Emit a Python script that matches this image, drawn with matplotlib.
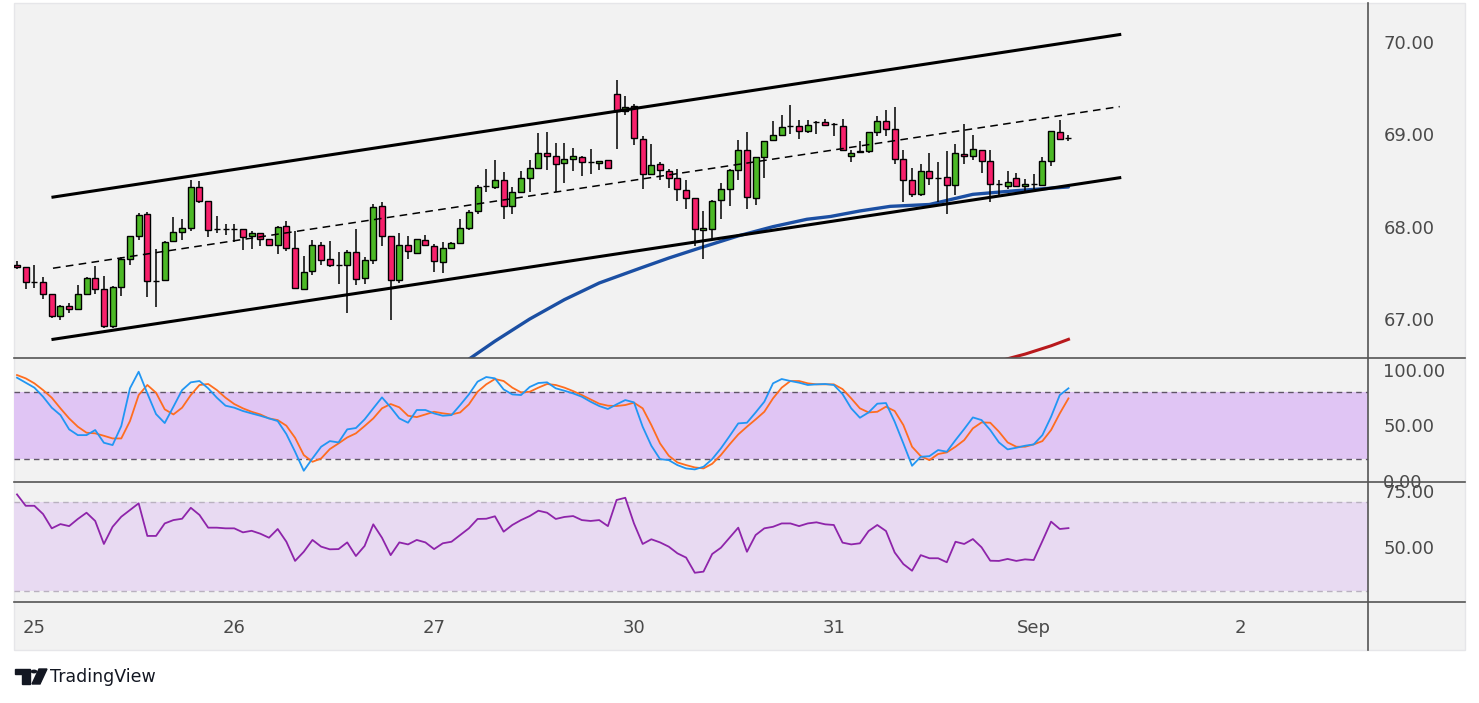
import numpy as np
import matplotlib.pyplot as plt
from matplotlib.patches import Rectangle, Polygon, Circle
from matplotlib.lines import Line2D

W, H = 1479, 703

# hourly candles, index 0..121
opens = [67.59, 67.56, 67.40, 67.40, 67.27, 67.03, 67.14, 67.11, 67.27, 67.44,
         67.32, 66.92, 67.35, 67.65, 67.90, 68.14, 67.41, 67.42, 67.84, 67.94,
         67.99, 68.43, 68.28, 67.97, 67.97, 67.97, 67.97, 67.90, 67.93, 67.87,
         67.80, 68.01, 67.77, 67.33, 67.52, 67.80, 67.65, 67.59, 67.59, 67.73,
         67.44, 67.64, 68.22, 67.90, 67.42, 67.80, 67.71, 67.86, 67.79, 67.62,
         67.77, 67.82, 67.99, 68.17, 68.44, 68.43, 68.50, 68.22, 68.37, 68.53,
         68.64, 68.80, 68.77, 68.69, 68.73, 68.75, 68.70, 68.69, 68.72, 69.44,
         69.25, 69.31, 68.95, 68.57, 68.68, 68.60, 68.53, 68.40, 68.31, 67.96,
         67.98, 68.29, 68.41, 68.61, 68.83, 68.31, 68.75, 68.94, 68.99, 69.09,
         69.09, 69.04, 69.13, 69.13, 69.11, 69.09, 68.77, 68.81, 68.82, 69.02,
         69.14, 69.06, 68.73, 68.50, 68.35, 68.60, 68.53, 68.54, 68.45, 68.79,
         68.76, 68.83, 68.71, 68.46, 68.44, 68.53, 68.44, 68.46, 68.45, 68.71,
         69.03, 68.96]
highs = [67.63, 67.56, 67.59, 67.45, 67.27, 67.15, 67.17, 67.37, 67.45, 67.57,
         67.47, 67.36, 67.67, 67.90, 68.15, 68.16, 67.76, 67.85, 68.11, 68.08,
         68.50, 68.49, 68.28, 68.12, 68.03, 68.03, 67.98, 67.95, 67.93, 67.87,
         68.01, 68.06, 67.95, 67.68, 67.86, 67.83, 67.84, 67.73, 67.75, 67.97,
         67.67, 68.24, 68.27, 67.90, 67.93, 67.90, 67.87, 67.91, 67.81, 67.83,
         67.83, 68.08, 68.18, 68.45, 68.62, 68.72, 68.59, 68.43, 68.60, 68.72,
         69.01, 69.02, 68.91, 68.91, 68.85, 68.77, 68.84, 68.71, 68.72, 69.59,
         69.42, 69.33, 68.98, 68.90, 68.70, 68.62, 68.62, 68.50, 68.31, 68.17,
         68.29, 68.47, 68.62, 68.94, 69.03, 68.75, 68.93, 69.14, 69.21, 69.32,
         69.16, 69.15, 69.14, 69.17, 69.12, 69.17, 68.83, 68.93, 69.03, 69.20,
         69.26, 69.30, 68.83, 68.64, 68.68, 68.80, 68.70, 68.82, 68.89, 69.11,
         68.99, 68.83, 68.83, 68.50, 68.60, 68.58, 68.52, 68.57, 68.75, 69.04,
         69.16, 68.99]
lows = [67.54, 67.33, 67.34, 67.22, 67.01, 66.99, 67.06, 67.10, 67.26, 67.27,
        66.90, 66.90, 67.25, 67.58, 67.86, 67.24, 67.13, 67.41, 67.84, 67.86,
        67.95, 68.26, 67.89, 67.93, 67.91, 67.83, 67.75, 67.76, 67.79, 67.79,
        67.70, 67.74, 67.33, 67.32, 67.48, 67.59, 67.56, 67.38, 67.07, 67.37,
        67.38, 67.60, 67.79, 66.99, 67.39, 67.65, 67.70, 67.80, 67.51, 67.50,
        67.76, 67.82, 67.96, 68.14, 68.37, 68.41, 68.08, 68.14, 68.36, 68.38,
        68.62, 68.61, 68.38, 68.47, 68.60, 68.55, 68.57, 68.61, 68.62, 68.84,
        69.21, 68.88, 68.41, 68.57, 68.50, 68.42, 68.28, 68.19, 67.79, 67.65,
        67.88, 68.08, 68.22, 68.50, 68.19, 68.23, 68.53, 68.93, 68.98, 69.00,
        68.95, 69.01, 69.00, 69.09, 68.98, 68.83, 68.70, 68.80, 68.80, 68.98,
        68.98, 68.68, 68.27, 68.32, 68.33, 68.45, 68.27, 68.14, 68.34, 68.68,
        68.72, 68.58, 68.27, 68.33, 68.41, 68.44, 68.38, 68.41, 68.45, 68.66,
        68.94, 68.93]
closes = [67.56, 67.40, 67.40, 67.27, 67.03, 67.14, 67.11, 67.27, 67.44, 67.32,
          66.92, 67.35, 67.65, 67.90, 68.13, 67.41, 67.41, 67.83, 67.94, 67.99,
          68.43, 68.28, 67.96, 67.97, 67.97, 67.97, 67.89, 67.93, 67.87, 67.80,
          68.00, 67.77, 67.34, 67.51, 67.80, 67.64, 67.59, 67.59, 67.73, 67.43,
          67.64, 68.21, 67.90, 67.42, 67.80, 67.74, 67.87, 67.80, 67.63, 67.77,
          67.82, 67.99, 68.16, 68.43, 68.44, 68.50, 68.22, 68.37, 68.53, 68.64,
          68.80, 68.77, 68.68, 68.73, 68.76, 68.70, 68.70, 68.71, 68.63, 69.25,
          69.30, 68.96, 68.57, 68.67, 68.61, 68.53, 68.41, 68.31, 67.97, 67.99,
          68.28, 68.41, 68.61, 68.83, 68.32, 68.75, 68.93, 68.99, 69.08, 69.09,
          69.04, 69.10, 69.13, 69.10, 69.11, 68.83, 68.80, 68.82, 69.02, 69.14,
          69.06, 68.73, 68.50, 68.35, 68.60, 68.53, 68.53, 68.45, 68.80, 68.76,
          68.84, 68.71, 68.46, 68.46, 68.48, 68.44, 68.46, 68.46, 68.71, 69.04,
          68.95, 68.96]

# moving averages (bar index, price)
ma_blue_bar = [51, 55, 59, 63, 67, 71.7, 75, 78.6, 83, 87, 90.9, 93.6, 97, 100.5, 105, 110, 115, 121]
ma_blue_val = [66.50, 66.76, 67.00, 67.21, 67.39, 67.55, 67.66, 67.77, 67.90, 68.00, 68.08, 68.11,
               68.17, 68.22, 68.24, 68.35, 68.39, 68.43]
ma_red_bar = [112, 116, 119, 121]
ma_red_val = [66.52, 66.62, 66.71, 66.78]

# channel drawing (bar index, price)
chan_bar = [4.14, 126.9]
chan_upper = [68.32, 70.08]
chan_mid = [67.55, 69.30]
chan_lower = [66.78, 68.53]

stoch_k = [93.2, 88.7, 84.2, 76.0, 66.1, 59.4, 46.5, 41.3, 41.3, 45.9,
           34.4, 32.3, 49.5, 83.6, 98.6, 79.0, 60.3, 52.2, 67.0, 82.0,
           89.0, 90.2, 83.6, 75.1, 67.9, 66.1, 63.1, 60.9, 58.8, 56.4,
           54.0, 42.2, 26.3, 9.1, 20.2, 30.8, 35.9, 34.7, 46.5, 47.7,
           55.5, 65.5, 75.4, 66.4, 56.4, 52.5, 64.0, 64.0, 60.9, 58.8,
           59.4, 68.5, 78.1, 89.6, 93.8, 92.6, 82.6, 78.1, 77.5, 84.8, 88.4,
           89.0, 83.6, 81.4, 79.0, 76.0, 71.5, 67.6, 64.9, 69.1, 73.0,
           70.9, 48.9, 31.7, 19.6, 18.7, 14.2, 11.2, 10.3, 12.7, 19.6,
           29.3, 40.4, 51.9, 52.5, 61.8, 71.5, 88.1, 92.0, 90.2, 88.7,
           86.6, 87.2, 87.5, 86.6, 78.4, 65.5, 57.0, 61.8, 69.7, 70.3,
           53.4, 33.8, 13.6, 21.7, 22.3, 27.8, 26.3, 36.8, 46.8, 57.3,
           54.9, 45.9, 34.7, 28.4, 29.9, 31.7, 32.9, 41.3, 57.9, 77.5, 83.6]
stoch_d = [95.6, 92.6, 88.1, 82.0, 75.1, 65.5, 56.4, 48.9, 43.5, 42.9,
           40.7, 38.3, 38.3, 54.0, 77.5, 86.6, 79.6, 64.6, 60.0, 66.1,
           77.5, 86.6, 87.5, 82.0, 75.1, 69.4, 65.5, 62.4, 60.0, 56.4,
           54.9, 49.8, 38.9, 23.3, 17.2, 20.2, 28.7, 33.8, 39.2, 42.9,
           49.5, 56.4, 65.5, 69.4, 66.4, 58.8, 57.6, 60.0, 62.4, 61.0,
           60.0, 61.8, 69.1, 80.5, 87.2, 92.0, 90.2, 84.2, 79.9, 80.5, 84.2,
           87.5, 86.6, 84.2, 81.1, 77.5, 73.6, 69.7, 67.9, 67.6, 68.5,
           70.6, 65.5, 50.4, 33.8, 22.7, 16.6, 14.2, 12.1, 11.2, 15.4,
           23.3, 32.9, 41.9, 48.9, 55.5, 62.4, 74.5, 84.2, 90.2, 90.2,
           88.1, 87.2, 87.2, 87.2, 82.9, 74.5, 65.5, 61.8, 62.4, 67.0,
           63.1, 50.4, 30.8, 22.3, 18.7, 24.2, 25.7, 30.8, 36.8, 47.4,
           52.8, 52.5, 44.4, 34.7, 30.8, 30.8, 32.9, 35.9, 45.9, 60.9, 74.5]
rsi = [73.4, 68.3, 68.3, 64.6, 58.2, 60.1, 59.2, 62.4, 65.2, 61.5,
       51.2, 58.9, 63.4, 66.4, 69.4, 54.8, 54.8, 60.4, 61.9, 62.5,
       67.4, 64.2, 58.5, 58.5, 58.2, 58.2, 56.4, 57.1, 55.8, 54.0,
       57.9, 52.2, 43.6, 47.7, 53.0, 50.0, 48.8, 48.9, 51.9, 45.8,
       50.3, 60.0, 54.0, 46.2, 51.9, 51.0, 53.0, 51.9, 48.9, 51.5,
       52.2, 55.2, 58.2, 62.4, 62.5, 63.6, 56.7, 59.7, 61.9, 63.7, 66.1,
       65.2, 62.4, 63.3, 63.7, 61.9, 61.5, 61.9, 59.2, 70.9, 71.9,
       60.4, 51.2, 53.3, 51.9, 50.0, 47.0, 45.1, 38.3, 38.8, 46.7,
       49.5, 54.0, 58.5, 47.7, 55.2, 58.2, 58.9, 60.4, 60.4, 59.2,
       60.4, 60.9, 60.0, 59.7, 51.8, 51.0, 51.5, 57.0, 59.7, 57.0,
       47.4, 42.2, 39.2, 46.2, 44.8, 44.8, 43.0, 52.2, 51.2, 53.4,
       49.7, 43.7, 43.6, 44.5, 43.6, 44.3, 44.0, 52.5, 61.2, 57.9, 58.3]

day_bars = [2, 25, 48, 71, 94, 117, 140.8]
day_labels = ['25', '26', '27', '30', '31', 'Sep', '2']

UP = '#4cb926'
DOWN = '#f7206b'
TXT = '#4a4a4a'
FONT = 13


def fx(px):
    return px / W


def fy(py):
    return 1 - py / H


fig = plt.figure(figsize=(W / 100, H / 100), dpi=100)
fig.patch.set_facecolor('white')

# chart background
fig.add_artist(Rectangle((fx(14), fy(650)), fx(1465) - fx(14), fy(3) - fy(650),
                         transform=fig.transFigure, facecolor='#f2f2f2',
                         edgecolor='#e6e6e9', lw=1, zorder=0))

left, right = fx(14), fx(1368)
ax_p = fig.add_axes([left, fy(358), right - left, fy(3) - fy(358)])
ax_s = fig.add_axes([left, fy(482), right - left, fy(358) - fy(482)])
ax_r = fig.add_axes([left, fy(602), right - left, fy(482) - fy(602)])

xlim = (-0.345, 155.47)
for ax in (ax_p, ax_s, ax_r):
    ax.set_facecolor('none')
    for s in ax.spines.values():
        s.set_visible(False)
    ax.set_xlim(*xlim)
    ax.yaxis.tick_right()
    ax.tick_params(axis='y', length=0, pad=11, labelsize=FONT, labelcolor=TXT)
    ax.tick_params(axis='x', length=0, labelbottom=False)

# price panel
idx = np.arange(len(opens))
o = np.array(opens); c = np.array(closes)
hi = np.array(highs); lo = np.array(lows)
cols = [UP if cc >= oo else DOWN for oo, cc in zip(o, c)]
ax_p.vlines(idx, lo, hi, color='black', lw=1.1, zorder=3)
ax_p.bar(idx, np.abs(c - o), bottom=np.minimum(o, c), width=0.69, color=cols,
         edgecolor='black', linewidth=1.0, zorder=4)
ax_p.plot(ma_blue_bar, ma_blue_val, color='#1b4fa3', lw=2.4, zorder=2, solid_capstyle='round')
ax_p.plot(ma_red_bar, ma_red_val, color='#b8191c', lw=2.2, zorder=2)
ax_p.plot(chan_bar, chan_upper, color='black', lw=2.2, zorder=5)
ax_p.plot(chan_bar, chan_lower, color='black', lw=2.2, zorder=5)
ax_p.plot(chan_bar, chan_mid, color='black', lw=1.1, dashes=(5, 3.5), zorder=5)
ax_p.set_ylim(66.578, 70.4216)
ax_p.set_yticks([67, 68, 69, 70])
ax_p.set_yticklabels(['%.2f' % v for v in [67, 68, 69, 70]])

# stochastic panel
ax_s.axhspan(20, 80, color='#e0c5f4', lw=0, zorder=0)
for lvl in (20, 80):
    ax_s.axhline(lvl, color='#5f5566', lw=1.0, dashes=(4, 3), zorder=1)
ax_s.plot(idx, stoch_k, color='#2196f3', lw=1.3, zorder=3)
ax_s.plot(idx, stoch_d, color='#ff6d1f', lw=1.3, zorder=2)
ax_s.set_ylim(-1.07, 111.0)
ax_s.set_yticks([0, 50, 100])
ax_s.set_yticklabels(['0.00', '50.00', '100.00'])

# rsi panel
ax_r.axhspan(30, 70, color='#e8daf2', lw=0, zorder=0)
for lvl in (30, 70):
    ax_r.axhline(lvl, color='#b9b1bf', lw=1.0, dashes=(4, 3), zorder=1)
ax_r.plot(idx, rsi, color='#8e24aa', lw=1.3, zorder=3)
ax_r.set_ylim(25.2, 78.96)
ax_r.set_yticks([50, 75])
ax_r.set_yticklabels(['50.00', '75.00'])
ax_r.set_xticks(day_bars)
ax_r.set_xticklabels(day_labels)
ax_r.tick_params(axis='x', length=0, pad=12, labelbottom=True, labelsize=FONT, labelcolor=TXT)

# separators
for py in (358, 482, 602):
    fig.add_artist(Line2D([fx(14), fx(1465)], [fy(py), fy(py)], color='#555555', lw=1.2,
                          transform=fig.transFigure, zorder=6))
fig.add_artist(Line2D([fx(1368), fx(1368)], [fy(3), fy(650)], color='#555555', lw=1.2,
                      transform=fig.transFigure, zorder=6))

# TradingView logo
logo = '#131722'
fig.add_artist(Polygon([(fx(15), fy(669)), (fx(30), fy(669)), (fx(30), fy(684)),
                        (fx(22), fy(684)), (fx(22), fy(674)), (fx(15), fy(674))],
                       closed=True, transform=fig.transFigure, color=logo))
fig.add_artist(Circle((fx(34), fy(671.5)), 2.6 / W, transform=fig.transFigure, color=logo))
fig.add_artist(Polygon([(fx(39), fy(669)), (fx(47), fy(669)), (fx(40), fy(684)), (fx(32), fy(684))],
                       closed=True, transform=fig.transFigure, color=logo))
fig.text(fx(50), fy(677), 'TradingView', fontsize=12.5, color=logo, va='center', ha='left')

fig.savefig('out.png', dpi=100)
